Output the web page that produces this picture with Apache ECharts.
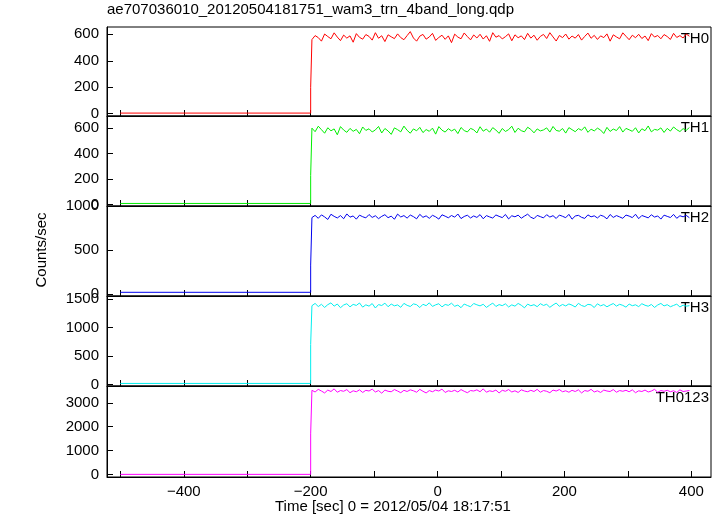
<!DOCTYPE html>
<html><head><meta charset="utf-8">
<script src="https://cdn.jsdelivr.net/npm/echarts@6/dist/echarts.min.js"></script>
<style>html,body{margin:0;padding:0;background:#fff}#c{width:723px;height:516px}</style>
</head><body><div id="c"></div>
<script>
const titleText = "ae707036010_20120504181751_wam3_trn_4band_long.qdp";
const bandNames = ["TH0","TH1","TH2","TH3","TH0123"];
const bandColors = ["#ff0000","#00ee00","#0000ee","#00eeee","#ff00ff"];
const baseline = [5,10,20,20,10];
const stepMid = [200,230,330,700,1700];
const xTicks = [-500,-400,-300,-200,-100,0,100,200,300,400];
const xLabels = [-400,-200,0,200,400];
const yLabels = [[0,200,400,600],[0,200,400,600],[0,500,1000],[0,500,1000,1500],[0,1000,2000,3000]];
const yRanges = [[-17,655],[-10,695],[-22,1002],[-25,1550],[-100,3700]];
const th0 = [560,590,575,548,602,583,566,611,579,552,594,571,588,540,605,577,563,598,584,556,
612,570,589,545,596,581,567,603,575,559,590,620,572,548,586,599,563,580,607,554,
576,593,562,588,537,601,579,566,610,583,558,595,572,600,564,589,547,612,578,590,
565,582,603,551,596,574,588,560,607,571,593,555,584,599,568,612,580,549,591,575,
602,563,587,571,598,556,584,609,570,592,561,588,575,603,548,596,580,566,611,585,
559,593,574,600,568,587,552,605,579,591,566,598,583,561,607,576,590,572,602,585];
const th1 = [600,572,615,588,560,603,579,594,548,612,585,567,598,575,590,556,609,582,595,570,
586,613,562,597,578,551,602,588,571,616,583,560,594,579,606,565,589,575,600,553,
612,584,569,596,578,592,557,605,581,570,598,587,562,611,576,593,568,604,585,559,
597,574,588,615,566,599,580,571,607,590,563,594,578,586,602,569,613,582,576,597,
561,604,588,572,596,583,610,567,592,578,600,585,558,606,574,593,581,612,569,598,
587,575,603,562,595,580,617,571,590,584,602,566,598,577,609,588,573,596,583,605];
const th2 = [870,895,862,901,878,849,908,884,866,893,857,912,875,889,852,898,880,867,905,872,
891,858,884,903,869,887,851,910,877,893,864,899,881,856,907,873,890,862,896,879,
853,902,886,868,894,875,911,859,883,897,866,889,872,904,857,893,878,865,900,884,
870,906,855,891,879,898,863,887,909,874,858,895,881,867,903,876,892,860,899,885,
869,907,852,888,896,873,861,901,879,890,866,897,884,856,905,872,893,878,862,899,
887,870,908,858,894,881,867,902,876,889,853,898,884,871,906,862,891,879,895,868];
const th3 = [1380,1420,1365,1405,1350,1398,1430,1372,1410,1345,1392,1415,1360,1403,1385,1428,1355,1396,1372,1418,
1340,1400,1383,1425,1362,1409,1378,1394,1352,1421,1387,1366,1412,1398,1348,1405,1381,1430,1368,1395,
1415,1359,1402,1386,1424,1370,1391,1345,1410,1384,1362,1419,1396,1377,1405,1350,1389,1426,1366,1400,
1381,1413,1358,1395,1372,1420,1388,1343,1408,1379,1398,1363,1416,1385,1405,1352,1393,1427,1369,1402,
1376,1411,1390,1357,1422,1383,1366,1404,1395,1348,1414,1378,1400,1361,1392,1418,1373,1405,1386,1355,
1409,1380,1396,1364,1415,1388,1371,1402,1350,1393,1420,1376,1398,1362,1385,1407,1358,1390,1372,1381];
const th0123 = [3520,3450,3560,3490,3410,3530,3470,3580,3440,3510,3480,3550,3420,3500,3460,3540,3430,3520,3490,3570,
3450,3510,3400,3530,3480,3460,3550,3490,3420,3520,3470,3540,3500,3440,3560,3480,3410,3510,3460,3530,
3490,3570,3430,3500,3470,3520,3450,3550,3480,3420,3510,3490,3540,3460,3580,3440,3500,3470,3530,3410,
3520,3480,3550,3450,3500,3430,3540,3490,3460,3520,3470,3560,3440,3510,3480,3420,3530,3490,3550,3460,
3500,3440,3520,3470,3540,3410,3510,3480,3560,3450,3500,3430,3530,3490,3470,3550,3440,3510,3480,3520,
3460,3540,3420,3500,3470,3530,3450,3490,3560,3440,3510,3480,3520,3460,3500,3430,3540,3470,3490,3510];
const bandValues = [th0,th1,th2,th3,th0123];
const tStart = -198, tStep = 5;

const chart = echarts.init(document.getElementById('c'), null, {renderer:'canvas'});
const tops = [27,116,206,296,386], heights = [89,90,90,90,91];
const font = 'Liberation Sans, Arial, sans-serif';
const grids=[], xAxes=[], yAxes=[], series=[], graphics=[];
for (let i=0;i<5;i++){
  grids.push({left:107,right:12,top:tops[i],height:heights[i],show:true,borderColor:'#000',borderWidth:1,backgroundColor:'transparent'});
  const last = i===4;
  xAxes.push({type:'value',gridIndex:i,min:-521,max:431,
    axisLine:{show:true,onZero:false,lineStyle:{color:'#000'}},
    axisTick:{show:true,inside:true,length:6,customValues:xTicks,lineStyle:{color:'#000'}},
    axisLabel:{show:last,customValues:xLabels,color:'#000',fontSize:15,fontFamily:font,margin:7,
      formatter:v=>String(v).replace('-','\u2212')},
    splitLine:{show:false}});
  yAxes.push({type:'value',gridIndex:i,min:yRanges[i][0],max:yRanges[i][1],
    axisLine:{show:true,onZero:false,lineStyle:{color:'#000'}},
    axisTick:{show:true,inside:true,length:6,customValues:yLabels[i],lineStyle:{color:'#000'}},
    axisLabel:{customValues:yLabels[i],color:'#000',fontSize:15,fontFamily:font,margin:8,formatter:v=>String(v)},
    splitLine:{show:false}});
  const data=[[-500,baseline[i]],[-200,baseline[i]],[-200,stepMid[i]]];
  bandValues[i].forEach((v,k)=>data.push([tStart+tStep*k,v]));
  series.push({type:'line',xAxisIndex:i,yAxisIndex:i,data,showSymbol:false,symbol:'none',
    lineStyle:{color:bandColors[i],width:1},itemStyle:{color:bandColors[i]},sampling:null,animation:false});
  graphics.push({type:'text',right:14,top:tops[i]+4,style:{text:bandNames[i],fill:'#000',font:'15px '+font,textAlign:'right'}});
}
graphics.push({type:'text',left:107,top:2,style:{text:titleText,fill:'#000',font:'15px '+font}});
graphics.push({type:'text',x:42,y:250,rotation:Math.PI/2,style:{text:'Counts/sec',fill:'#000',font:'15px '+font,textAlign:'center',textVerticalAlign:'middle'}});
graphics.push({type:'text',left:275,top:499,style:{text:'Time [sec] 0 = 2012/05/04 18:17:51',fill:'#000',font:'15px '+font}});
chart.setOption({animation:false,grid:grids,xAxis:xAxes,yAxis:yAxes,series,graphic:graphics});
</script></body></html>
